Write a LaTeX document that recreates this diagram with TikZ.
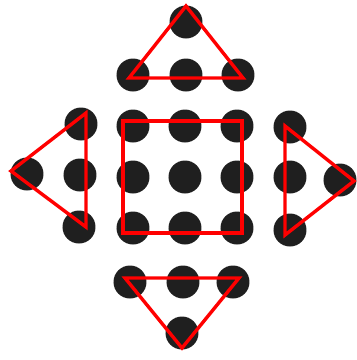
\documentclass[tikz,border=0pt]{standalone}
\begin{document}
\begin{tikzpicture}[x=1pt,y=-1pt,
  dot/.style={circle,fill=black!88,inner sep=0pt,minimum size=33pt},
  redline/.style={draw=red,line width=3.4pt,line join=miter}]
\useasboundingbox (0,0) rectangle (357,360);
% top group
\node[dot] (t0) at (186,22) {};
\node[dot] (t1) at (133,75) {};
\node[dot] (t2) at (186,75) {};
\node[dot] (t3) at (238,75) {};
% left group
\node[dot] (l0) at (27,174) {};
\node[dot] (l1) at (81,124) {};
\node[dot] (l2) at (80,175) {};
\node[dot] (l3) at (79,227) {};
% center grid
\node[dot] (c11) at (133,126) {};
\node[dot] (c12) at (185,126) {};
\node[dot] (c13) at (237,126) {};
\node[dot] (c21) at (133,177) {};
\node[dot] (c22) at (185,177) {};
\node[dot] (c23) at (237,177) {};
\node[dot] (c31) at (133,228) {};
\node[dot] (c32) at (185,228) {};
\node[dot] (c33) at (237,228) {};
% right group
\node[dot] (r1) at (290,127) {};
\node[dot] (r2) at (290,177) {};
\node[dot] (r3) at (290,230) {};
\node[dot] (r0) at (340,180) {};
% bottom group
\node[dot] (b1) at (130,282) {};
\node[dot] (b2) at (183,282) {};
\node[dot] (b3) at (233,282) {};
\node[dot] (b0) at (182,333) {};
% red shape vertices
\coordinate (ta) at (186,6);
\coordinate (tl) at (129,78);
\coordinate (tr) at (243,78);
\coordinate (la) at (11,171);
\coordinate (lt) at (86,113);
\coordinate (lb) at (86,227);
\coordinate (ra) at (354,181);
\coordinate (rt) at (285,126);
\coordinate (rb) at (285,235);
\coordinate (ba) at (182,348);
\coordinate (bl) at (125,278);
\coordinate (br) at (239,278);
\coordinate (s1) at (123,121);
\coordinate (s2) at (242,233);
\draw[redline] (ta) -- (tl) -- (tr) -- cycle;
\draw[redline] (la) -- (lt) -- (lb) -- cycle;
\draw[redline] (ra) -- (rt) -- (rb) -- cycle;
\draw[redline] (ba) -- (bl) -- (br) -- cycle;
\draw[redline] (s1) rectangle (s2);
\end{tikzpicture}
\end{document}
